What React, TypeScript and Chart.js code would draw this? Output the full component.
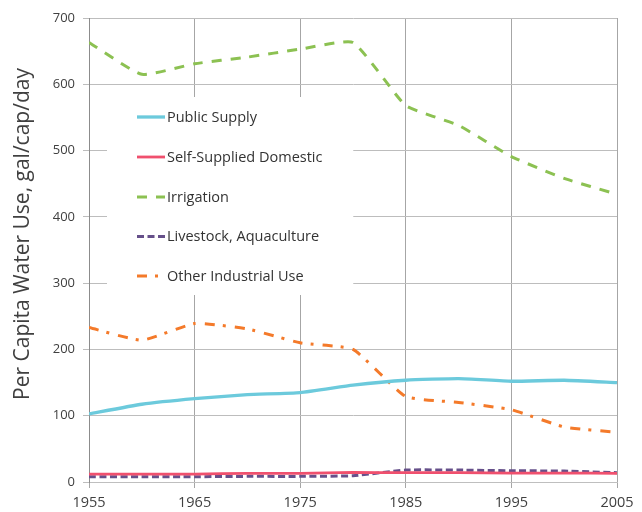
import React, { useEffect, useRef } from 'react';
import { Chart, registerables } from 'chart.js';

Chart.register(...registerables);

const years = [1955, 1960, 1965, 1970, 1975, 1980, 1985, 1990, 1995, 2000, 2005];
const publicSupply = [102.7, 117.3, 125.8, 131.8, 134.8, 146, 153.5, 156, 152, 153.5, 150];
const selfSupplied = [12, 12, 12, 13, 13, 14.5, 14, 14, 13.5, 13.5, 13];
const irrigation = [663, 615, 631, 641, 653, 663, 568, 538, 491, 458, 434];
const livestock = [8, 8, 8, 8.5, 8.5, 9.5, 18, 18, 17, 16.5, 14];
const otherIndustrial = [233, 214, 239, 231, 210, 200, 129, 120, 109, 83, 75];

const seriesNames = [
  'Public Supply',
  'Self-Supplied Domestic',
  'Irrigation',
  'Livestock, Aquaculture',
  'Other Industrial Use',
];
const yAxisTitle = 'Per Capita Water Use, gal/cap/day';
const xMin = 1955;
const xMax = 2005;
const yMin = 0;
const yMax = 700;

const FONT = '"Open Sans", "DejaVu Sans", sans-serif';
const TEXT = '#404040';

const styles = [
  { color: '#6ccadc', width: 3.3, dash: [] as number[] },
  { color: '#f0506e', width: 2.8, dash: [] as number[] },
  { color: '#8cc152', width: 3, dash: [10, 9] },
  { color: '#66508a', width: 3, dash: [7, 3.5] },
  { color: '#f47a2a', width: 3, dash: [10, 8, 3, 9] },
];

const legendPlugin = {
  id: 'boxLegend',
  beforeDatasetsDraw(chart: any) {
    const ctx = chart.ctx as CanvasRenderingContext2D;
    ctx.save();
    ctx.fillStyle = '#ffffff';
    ctx.fillRect(107, 97, 246, 198);
    const rowsY = [117, 157, 197, 236.5, 276];
    ctx.font = `14.5px ${FONT}`;
    ctx.textBaseline = 'middle';
    ctx.textAlign = 'left';
    seriesNames.forEach((name, i) => {
      const s = styles[i];
      const y = rowsY[i];
      ctx.beginPath();
      ctx.strokeStyle = s.color;
      ctx.lineWidth = s.width;
      ctx.setLineDash(s.dash);
      ctx.moveTo(137, y);
      ctx.lineTo(165, y);
      ctx.stroke();
      ctx.setLineDash([]);
      ctx.fillStyle = '#333333';
      ctx.fillText(name, 167, y + 0.5);
    });
    ctx.restore();
  },
  afterDraw(chart: any) {
    const ctx = chart.ctx as CanvasRenderingContext2D;
    ctx.save();
    ctx.translate(23, 234);
    ctx.rotate(-Math.PI / 2);
    ctx.font = `21px ${FONT}`;
    ctx.fillStyle = TEXT;
    ctx.textAlign = 'center';
    ctx.textBaseline = 'middle';
    ctx.fillText(yAxisTitle, 0, 0);
    ctx.restore();
  },
};

export default function App() {
  const ref = useRef<HTMLCanvasElement | null>(null);

  useEffect(() => {
    document.body.style.margin = '0';
    let chart: Chart | null = null;
    let cancelled = false;
    const make = () => {
      if (cancelled || !ref.current) return;
      const allSeries = [publicSupply, selfSupplied, irrigation, livestock, otherIndustrial];
      chart = new Chart(ref.current, {
        type: 'line',
        data: {
          datasets: allSeries.map((vals, i) => ({
            label: seriesNames[i],
            data: years.map((yr, j) => ({ x: yr, y: vals[j] })),
            borderColor: styles[i].color,
            borderWidth: styles[i].width,
            borderDash: styles[i].dash,
            pointRadius: 0,
            fill: false,
            tension: 0.15,
          })),
        },
        options: {
          responsive: false,
          animation: false,
          devicePixelRatio: 1,
          layout: { padding: { left: 0, top: 18, right: 25, bottom: 0 } },
          plugins: {
            legend: { display: false },
            tooltip: { enabled: false },
          },
          scales: {
            x: {
              type: 'linear',
              min: xMin,
              max: xMax,
              ticks: {
                stepSize: 10,
                color: TEXT,
                font: { family: FONT, size: 14.5 },
                padding: 6,
                maxRotation: 0,
                callback: (v: any) => String(v),
              },
              grid: {
                color: '#a6a6a6',
                lineWidth: 1,
                tickLength: 6,
                drawTicks: true,
              },
              border: { display: true, color: '#bfbfbf' },
              afterFit: (scale: any) => {
                scale.height = 30;
              },
            },
            y: {
              min: yMin,
              max: yMax,
              ticks: {
                stepSize: 100,
                color: TEXT,
                font: { family: FONT, size: 13 },
                padding: 8,
              },
              grid: {
                color: '#bdbdbd',
                lineWidth: 1,
                tickLength: 6,
                drawTicks: true,
              },
              border: { display: true, color: '#8c8c8c' },
              afterFit: (scale: any) => {
                scale.width = 89;
              },
            },
          },
        },
        plugins: [legendPlugin],
      });
    };
    const fontsApi = (document as any).fonts;
    if (fontsApi && fontsApi.load) {
      Promise.all([
        fontsApi.load(`13px "Open Sans"`),
        fontsApi.load(`21px "Open Sans"`),
      ])
        .catch(() => null)
        .then(make);
    } else {
      make();
    }
    return () => {
      cancelled = true;
      if (chart) chart.destroy();
    };
  }, []);

  return (
    <div style={{ position: 'absolute', left: 0, top: 0, width: 642, height: 512, background: '#fff' }}>
      <canvas ref={ref} width={642} height={512} style={{ display: 'block' }} />
    </div>
  );
}
